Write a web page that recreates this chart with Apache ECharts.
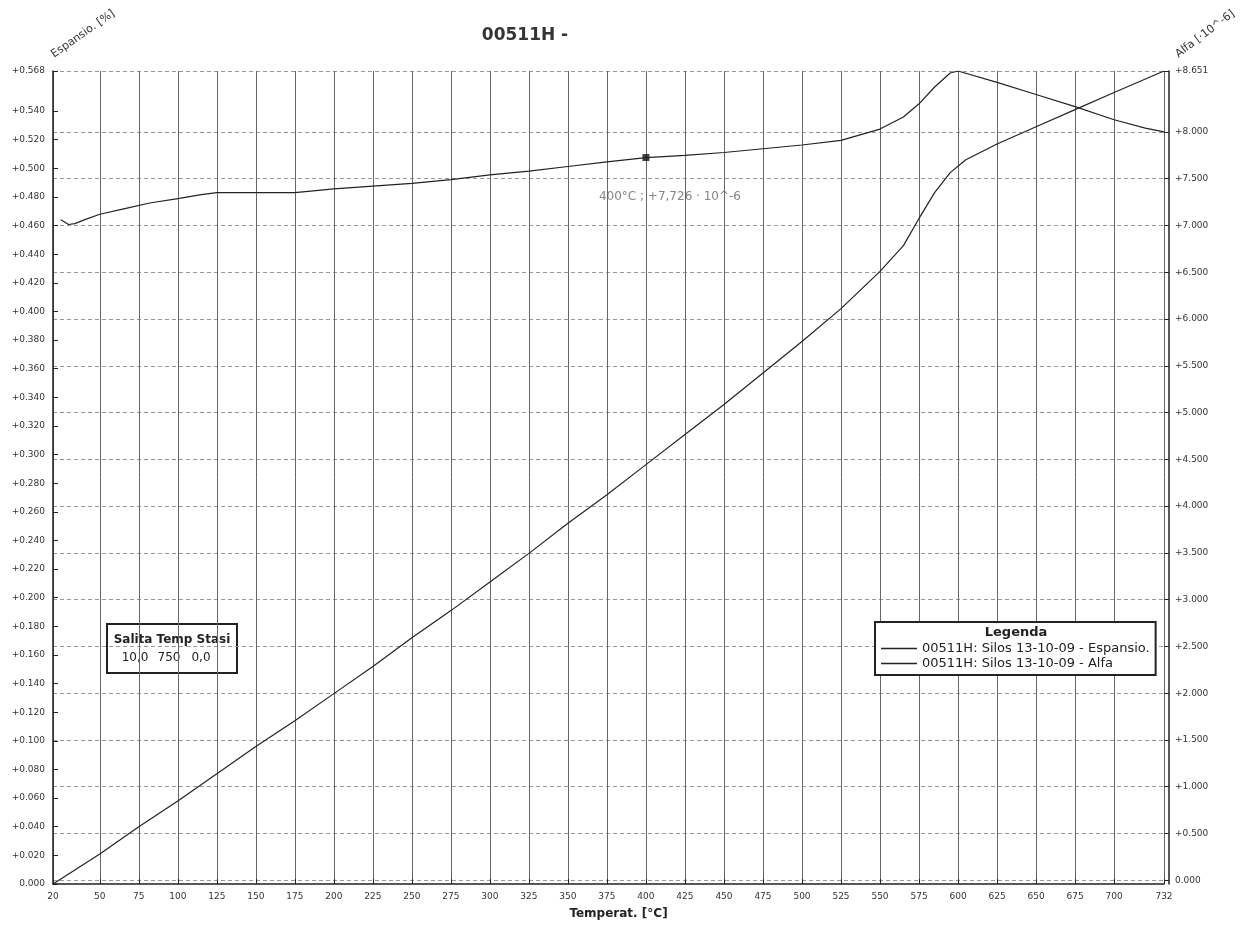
<!DOCTYPE html>
<html>
<head>
<meta charset="utf-8">
<script src="https://cdn.jsdelivr.net/npm/echarts@6/dist/echarts.min.js"></script>
<style>
  html, body { margin: 0; padding: 0; background: #ffffff; }
  #chart { width: 1248px; height: 930px; }
</style>
</head>
<body>
<div id="chart"></div>
<script>
// Dilatometer run 00511H: expansion [%] and mean coefficient alfa [·10^-6] vs temperature
const temperatures = [20, 50, 75, 100, 125, 150, 175, 200, 225, 250, 275, 300, 325, 350, 375, 400,
  425, 450, 475, 500, 525, 550, 565, 575, 585, 595, 605, 625, 650, 675, 700, 732];
const espansio = [0.000, 0.021, 0.040, 0.058, 0.077, 0.096, 0.114, 0.133, 0.152, 0.172, 0.191, 0.211,
  0.231, 0.252, 0.272, 0.293, 0.314, 0.335, 0.357, 0.379, 0.402, 0.428, 0.446, 0.465, 0.483, 0.497,
  0.506, 0.517, 0.529, 0.541, 0.553, 0.568];

const alfaTemps = [25, 30, 34, 40, 50, 66, 82, 101, 115, 125, 150, 175, 200, 225, 250, 275, 300, 325,
  350, 375, 400, 425, 450, 475, 500, 525, 550, 565, 575, 585, 595, 600, 625, 650, 675, 700, 720, 732];
const alfa = [7.06, 7.01, 7.02, 7.06, 7.12, 7.18, 7.24, 7.29, 7.33, 7.35, 7.35, 7.35, 7.39, 7.42, 7.45,
  7.49, 7.54, 7.58, 7.63, 7.68, 7.726, 7.75, 7.78, 7.82, 7.86, 7.91, 8.03, 8.16, 8.30, 8.48, 8.63, 8.651,
  8.53, 8.40, 8.27, 8.13, 8.04, 8.00];

// cursor readout
const cursorTemp = 400;
const cursorAlfa = 7.726;

// tick labels
const xTicks = [20, 50, 75, 100, 125, 150, 175, 200, 225, 250, 275, 300, 325, 350, 375, 400, 425, 450,
  475, 500, 525, 550, 575, 600, 625, 650, 675, 700, 732];
const leftTicks = [0, 0.02, 0.04, 0.06, 0.08, 0.10, 0.12, 0.14, 0.16, 0.18, 0.20, 0.22, 0.24, 0.26,
  0.28, 0.30, 0.32, 0.34, 0.36, 0.38, 0.40, 0.42, 0.44, 0.46, 0.48, 0.50, 0.52, 0.54, 0.568];
const rightTicks = [0, 0.5, 1.0, 1.5, 2.0, 2.5, 3.0, 3.5, 4.0, 4.5, 5.0, 5.5, 6.0, 6.5, 7.0, 7.5, 8.0, 8.651];

const salita = { header: 'Salita Temp Stasi', values: ['10,0', '750', '0,0'] };
const nameEsp = '00511H: Silos 13-10-09 - Espansio.';
const nameAlfa = '00511H: Silos 13-10-09 - Alfa';

const FONT = '"DejaVu Sans", Verdana, sans-serif';
const INK = '#222';

const fmtSigned = v => (v === 0 ? '0.000' : '+' + v.toFixed(3));

const chart = echarts.init(document.getElementById('chart'), null, { renderer: 'canvas' });

const centered = { align: 'center', verticalAlign: 'middle', textAlign: 'center', textVerticalAlign: 'middle' };

chart.setOption({
  backgroundColor: '#ffffff',
  animation: false,
  title: {
    text: '00511H -',
    left: 520, top: 22, textAlign: 'center',
    textStyle: { fontFamily: FONT, fontSize: 17, fontWeight: 'bold', color: '#333' }
  },
  grid: { left: 53, right: 84, top: 71, bottom: 46, containLabel: false },
  legend: {
    data: [nameEsp, nameAlfa],
    orient: 'vertical',
    left: 875, top: 622,
    padding: [20, 6, 5, 6],
    itemGap: 2,
    itemWidth: 36, itemHeight: 1.6,
    icon: 'rect',
    backgroundColor: '#ffffff',
    borderColor: INK, borderWidth: 2,
    textStyle: { fontFamily: FONT, fontSize: 13, color: INK }
  },
  xAxis: {
    type: 'value',
    min: 20, max: 732,
    name: 'Temperat. [°C]',
    nameLocation: 'middle', nameGap: 24,
    nameTextStyle: { fontFamily: FONT, fontSize: 12, fontWeight: 'bold', color: INK, padding: [0, 0, 0, 20] },
    axisLine: { lineStyle: { color: INK, width: 1.5 } },
    axisTick: { show: true, inside: true, length: 5, customValues: xTicks, lineStyle: { color: INK } },
    axisLabel: { customValues: xTicks, fontFamily: FONT, fontSize: 9, color: '#333', margin: 8 },
    splitLine: { show: true, lineStyle: { color: '#666', width: 1 } }
  },
  yAxis: [
    {
      type: 'value',
      min: 0, max: 0.568,
      position: 'left',
      axisLine: { show: true, lineStyle: { color: INK, width: 1.5 } },
      axisTick: { show: true, inside: true, length: 5, customValues: leftTicks, lineStyle: { color: INK } },
      axisLabel: { customValues: leftTicks, formatter: fmtSigned, fontFamily: FONT, fontSize: 9, color: '#333', margin: 8 },
      splitLine: { show: false }
    },
    {
      type: 'value',
      min: -0.04, max: 8.651,
      position: 'right',
      offset: 5,
      axisLine: { show: true, lineStyle: { color: INK, width: 1.5 } },
      axisTick: { show: true, inside: true, length: 5, customValues: rightTicks, lineStyle: { color: INK } },
      axisLabel: { customValues: rightTicks, formatter: fmtSigned, fontFamily: FONT, fontSize: 9, color: '#333', margin: 6 },
      splitLine: { show: true, lineStyle: { color: '#999', width: 1, type: [4, 3] } }
    }
  ],
  series: [
    {
      name: nameEsp,
      type: 'line',
      yAxisIndex: 0,
      showSymbol: false, symbol: 'none',
      lineStyle: { color: INK, width: 1.2 },
      itemStyle: { color: INK },
      data: temperatures.map((t, i) => [t, espansio[i]])
    },
    {
      name: nameAlfa,
      type: 'line',
      yAxisIndex: 1,
      showSymbol: false, symbol: 'none',
      lineStyle: { color: INK, width: 1.2 },
      itemStyle: { color: INK },
      data: alfaTemps.map((t, i) => [t, alfa[i]])
    },
    {
      name: 'cursor',
      type: 'scatter',
      yAxisIndex: 1,
      symbol: 'rect', symbolSize: 7,
      itemStyle: { color: '#111' },
      label: {
        show: true,
        position: 'bottom',
        offset: [24, 25],
        fontFamily: FONT, fontSize: 12, color: '#666',
        formatter: p => p.value[0] + '°C ; +' + p.value[1].toFixed(3).replace('.', ',') + ' · 10^-6'
      },
      data: [[cursorTemp, cursorAlfa]]
    }
  ],
  graphic: [
    {
      type: 'text', x: 83, y: 34, rotation: 35 * Math.PI / 180,
      style: Object.assign({ text: 'Espansio. [%]', font: '11px ' + FONT, fill: '#333' }, centered)
    },
    {
      type: 'text', x: 1205, y: 34, rotation: 37 * Math.PI / 180,
      style: Object.assign({ text: 'Alfa [·10^-6]', font: '11px ' + FONT, fill: '#333' }, centered)
    },
    {
      type: 'text', x: 1016, y: 633, z: 100,
      style: Object.assign({ text: 'Legenda', font: 'bold 13px ' + FONT, fill: INK }, centered)
    },
    {
      type: 'group', left: 106, top: 623, z: 100,
      children: [
        { type: 'rect', shape: { x: 0, y: 0, width: 130, height: 49 },
          style: { fill: '#ffffff', stroke: INK, lineWidth: 2 } },
        { type: 'text', x: 65, y: 16,
          style: Object.assign({ text: salita.header, font: 'bold 12px ' + FONT, fill: INK }, centered) },
        { type: 'text', x: 28, y: 34,
          style: Object.assign({ text: salita.values[0], font: '12px ' + FONT, fill: INK }, centered) },
        { type: 'text', x: 62, y: 34,
          style: Object.assign({ text: salita.values[1], font: '12px ' + FONT, fill: INK }, centered) },
        { type: 'text', x: 94, y: 34,
          style: Object.assign({ text: salita.values[2], font: '12px ' + FONT, fill: INK }, centered) }
      ]
    }
  ]
});
</script>
</body>
</html>
